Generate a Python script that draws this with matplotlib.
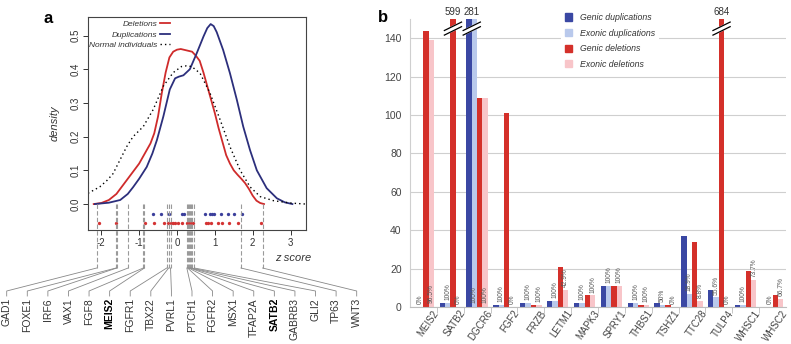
import numpy as np
import matplotlib.pyplot as plt
from matplotlib.patches import Patch
from matplotlib.lines import Line2D
from matplotlib.transforms import ScaledTranslation

plt.rcParams['font.family'] = ['Liberation Sans', 'DejaVu Sans']

# ---- panel a: density of z scores ----
del_z = [-2.2, -2.0, -1.8, -1.6, -1.4, -1.2, -1.0, -0.8, -0.7, -0.6, -0.5, -0.4, -0.3, -0.2,
         -0.1, 0.0, 0.1, 0.25, 0.4, 0.5, 0.6, 0.7, 0.8, 0.9, 1.0, 1.1, 1.2, 1.3, 1.4, 1.5,
         1.6, 1.7, 1.8, 1.9, 2.0, 2.1, 2.2, 2.3]
del_d = [0.0, 0.003, 0.012, 0.03, 0.06, 0.09, 0.12, 0.16, 0.18, 0.21, 0.26, 0.33, 0.39, 0.435,
         0.452, 0.458, 0.46, 0.456, 0.452, 0.44, 0.425, 0.39, 0.35, 0.31, 0.27, 0.225, 0.185, 0.145, 0.12, 0.10,
         0.087, 0.075, 0.062, 0.045, 0.025, 0.01, 0.003, 0.0]

dup_z = [-2.17, -1.8, -1.5, -1.3, -1.16, -1.0, -0.8, -0.65, -0.53, -0.36, -0.19, -0.05, 0.05, 0.17,
         0.34, 0.52, 0.7, 0.8, 0.89, 0.97, 1.05, 1.22, 1.4, 1.58, 1.75, 1.93, 2.11, 2.37, 2.64,
         2.85, 3.05]
dup_d = [0.0, 0.004, 0.012, 0.03, 0.05, 0.075, 0.11, 0.15, 0.19, 0.26, 0.34, 0.373, 0.378, 0.382,
         0.40, 0.447, 0.497, 0.522, 0.534, 0.528, 0.51, 0.457, 0.388, 0.31, 0.23, 0.16, 0.10, 0.047, 0.017,
         0.005, 0.0]

norm_z = [-2.35, -2.04, -1.85, -1.69, -1.51, -1.33, -1.16, -0.89, -0.63, -0.36, -0.1, 0.12, 0.25,
          0.39, 0.61, 0.87, 1.14, 1.4, 1.67, 1.93, 2.2, 2.55, 3.0, 3.4]
norm_d = [0.032, 0.051, 0.07, 0.09, 0.13, 0.17, 0.20, 0.23, 0.28, 0.35, 0.39, 0.408, 0.41,
          0.408, 0.388, 0.33, 0.25, 0.17, 0.10, 0.051, 0.022, 0.01, 0.003, 0.0]

dup_dots = [-0.63, -0.42, -0.20, 0.12, 0.19, 0.74, 0.86, 0.92, 0.98, 1.16, 1.36, 1.51, 1.71]
del_dots = [-2.06, -1.61, -0.85, -0.61, -0.34, -0.23, -0.17, -0.11, -0.05, 0.02, 0.12, 0.26,
            0.32, 0.37, 0.43, 0.76, 0.83, 0.90, 1.09, 1.20, 1.38, 1.62, 2.22]

genes_a = ['GAD1', 'FOXE1', 'IRF6', 'VAX1', 'FGF8', 'MEIS2', 'FGFR1', 'TBX22', 'PVRL1',
           'PTCH1', 'FGFR2', 'MSX1', 'TFAP2A', 'SATB2', 'GABRB3', 'GLI2', 'TP63', 'WNT3']
gene_z = [-2.12, -1.61, -1.59, -1.29, -0.89, -0.86, -0.27, -0.22, -0.17,
          0.26, 0.28, 0.31, 0.34, 0.36, 0.39, 0.46, 1.69, 2.26]
bold_genes = ['MEIS2', 'SATB2']

# ---- panel b: CNV counts per gene ----
genes_b = ['MEIS2', 'SATB2', 'DGCR6', 'FGF2', 'FRZB', 'LETM1', 'MAPK3', 'SPRY1', 'THBS1',
           'TSHZ1', 'TTC28', 'TULP4', 'WHSC1', 'WHSC2']
genic_dup = [0, 2, 281, 1, 2, 3, 2, 11, 2, 2, 37, 9, 1, 0]
exonic_dup = [0, 2, 281, 1, 2, 3, 2, 11, 2, 1, 7, 5, 1, 0]
genic_del = [144, 599, 109, 101, 1, 21, 6, 11, 1, 1, 34, 684, 19, 6]
exonic_del = [139, 0, 109, 0, 1, 9, 6, 11, 1, 0, 3, 0, 14, 4]

RED = '#cf2b2b'
NAVY = '#2c2f7c'
C_GD = '#3a47a3'
C_ED = '#b9c9ec'
C_GL = '#d4302a'
C_EL = '#f8c5c9'
TXT = '#333333'

fig = plt.figure(figsize=(7.91, 3.44), dpi=100)

# ================= panel a =================
ax = fig.add_axes([0.1113, 0.3314, 0.2756, 0.6192])
ax.plot(del_z, del_d, color=RED, lw=1.3, label='Deletions')
ax.plot(dup_z, dup_d, color=NAVY, lw=1.3, label='Duplications')
ax.plot(norm_z, norm_d, color='black', lw=1.0, ls=(0, (1, 2.2)), label='Normal individuals')
ax.plot(dup_dots, [-0.030] * len(dup_dots), 'o', color='#3b3f9c', ms=2.4, mec='none')
ax.plot(del_dots, [-0.057] * len(del_dots), 'o', color='#d43333', ms=2.4, mec='none')
ax.set_xlim(-2.35, 3.41)
ax.set_ylim(-0.077, 0.555)
ax.set_xticks([-2, -1, 0, 1, 2, 3])
ax.set_xticklabels(['-2', '-1', '0', '1', '2', '3'])
ax.set_yticks([0.0, 0.1, 0.2, 0.3, 0.4, 0.5])
ax.set_yticklabels(['0.0', '0.1', '0.2', '0.3', '0.4', '0.5'], rotation=90, va='center')
ax.tick_params(labelsize=7, colors=TXT, length=3.5, width=0.7, pad=2)
for s in ax.spines.values():
    s.set_color('#444444')
    s.set_linewidth(0.8)
ax.set_ylabel('density', style='italic', fontsize=8, color=TXT, labelpad=8)
fig.text(0.371, 0.25, 'z score', style='italic', fontsize=8, color=TXT, ha='center', va='center')
leg = ax.legend(loc='upper right', bbox_to_anchor=(0.2215, 0.955), bbox_transform=fig.transFigure,
                frameon=False, markerfirst=False, fontsize=6, handlelength=1.2,
                labelspacing=0.3, handletextpad=0.35, borderpad=0.1)
for t in leg.get_texts():
    t.set_style('italic')
    t.set_color(TXT)
    t.set_ha('right')
fig.text(0.061, 0.945, 'a', fontsize=12, fontweight='bold', ha='center', va='center')

# dashed gene markers and connectors to the labels
to_fig = ax.transData + fig.transFigure.inverted()
y_dash_top = to_fig.transform((0, 0.0))[1]
y_dash_bot = (344 - 268) / 344
y_bend = (344 - 291) / 344
y_lab = (344 - 296) / 344
lab_x = np.linspace(6.7 / 791, 356.7 / 791, len(genes_a))
for g, z, lx in zip(genes_a, gene_z, lab_x):
    xf = to_fig.transform((z, 0))[0]
    fig.add_artist(Line2D([xf, xf], [y_dash_top, y_dash_bot], color='#9a9a9a', lw=0.8,
                          ls=(0, (4, 2))))
    fig.add_artist(Line2D([xf, lx, lx], [y_dash_bot, y_bend, y_lab], color='#888888', lw=0.6))
    fig.text(lx, y_lab - 0.006, g, rotation=90, ha='center', va='top', fontsize=7.5,
             color='black' if g in bold_genes else TXT,
             fontweight='bold' if g in bold_genes else 'normal')

# ================= panel b =================
bx = fig.add_axes([0.5183, 0.1076, 0.4754, 0.8372])
xs = np.arange(len(genes_b))
w = 0.2
series = [(genic_dup, C_GD, 'Genic duplications'), (exonic_dup, C_ED, 'Exonic duplications'),
          (genic_del, C_GL, 'Genic deletions'), (exonic_del, C_EL, 'Exonic deletions')]
for k, (vals, col, lab) in enumerate(series):
    bx.bar(xs + (k - 1.5) * w, vals, width=w, color=col, label=lab, zorder=2)

bx.set_xlim(-0.5, len(genes_b) - 0.5)
bx.set_ylim(0, 150)
bx.set_yticks(range(0, 141, 20))
bx.yaxis.grid(True, color='#cfcfcf', lw=0.8, zorder=0)
bx.set_axisbelow(True)
for s in ['top', 'right']:
    bx.spines[s].set_visible(False)
bx.spines['left'].set_color('#cfcfcf')
bx.spines['bottom'].set_color('#bdbdbd')
bx.tick_params(axis='y', length=0, labelsize=7.5, colors='#444444', pad=6)
bx.set_xticks(xs)
bx.set_xticklabels(genes_b, rotation=55, ha='right', rotation_mode='anchor', fontsize=7,
                   color='#444444')
bx.tick_params(axis='x', length=0, pad=1)
bx.set_xticks(xs[:-1] + 0.5, minor=True)
bx.tick_params(axis='x', which='minor', length=4, color='#bdbdbd')
for t in bx.get_xticklabels():
    t.set_transform(t.get_transform() + ScaledTranslation(0.09, 0, fig.dpi_scale_trans))


def pct(ex, ge):
    if ge == 0 or ex == 0:
        return '0%'
    p = 100.0 * ex / ge
    return '%d%%' % p if abs(p - round(p)) < 1e-9 else '%.1f%%' % p


for i in xs:
    for off, ex, ge in [(-0.1, exonic_dup[i], genic_dup[i]), (0.3, exonic_del[i], genic_del[i])]:
        y = 2 if ex > 50 else ex + 1.5
        bx.text(i + off, y, pct(ex, ge), rotation=90, ha='center', va='bottom', fontsize=4.8,
                color='#555555', zorder=3)


def axis_break(x, half):
    # white gap with two slanted strokes across a clipped bar
    dx, rise, gap = half, 2.2, 1.2
    bx.fill([x - dx, x + dx, x + dx, x - dx],
            [145 - rise - gap, 145 + rise - gap, 145 + rise + gap, 145 - rise + gap],
            color='white', zorder=4, clip_on=False)
    for s in (-gap, gap):
        bx.plot([x - dx, x + dx], [145 - rise + s, 145 + rise + s], color='black', lw=0.9,
                zorder=5, clip_on=False)


for i, vals, k in [(1, genic_del, 2), (11, genic_del, 2)]:
    axis_break(i + (k - 1.5) * w, 0.32)
    bx.text(i + (k - 1.5) * w, 151, str(vals[i]), ha='center', va='bottom', fontsize=7,
            color='#333333')
axis_break(2 - 0.2, 0.32)
bx.text(2 - 0.2, 151, str(genic_dup[2]), ha='center', va='bottom', fontsize=7, color='#333333')

handles = [Patch(color=c) for _, c, _ in series]
lg = bx.legend(handles, [l for _, _, l in series], loc='upper left',
               bbox_to_anchor=(0.704, 0.985), bbox_transform=fig.transFigure,
               frameon=True, fontsize=6.3, handlelength=0.8, handleheight=0.9,
               labelspacing=0.75, handletextpad=1.0, borderpad=0.4)
lg.get_frame().set_facecolor('white')
lg.get_frame().set_edgecolor('none')
lg.get_frame().set_alpha(1)
for t in lg.get_texts():
    t.set_style('italic')
    t.set_color('#333333')
fig.text(0.484, 0.95, 'b', fontsize=12, fontweight='bold', ha='center', va='center')

fig.savefig('out.png', dpi=100)
